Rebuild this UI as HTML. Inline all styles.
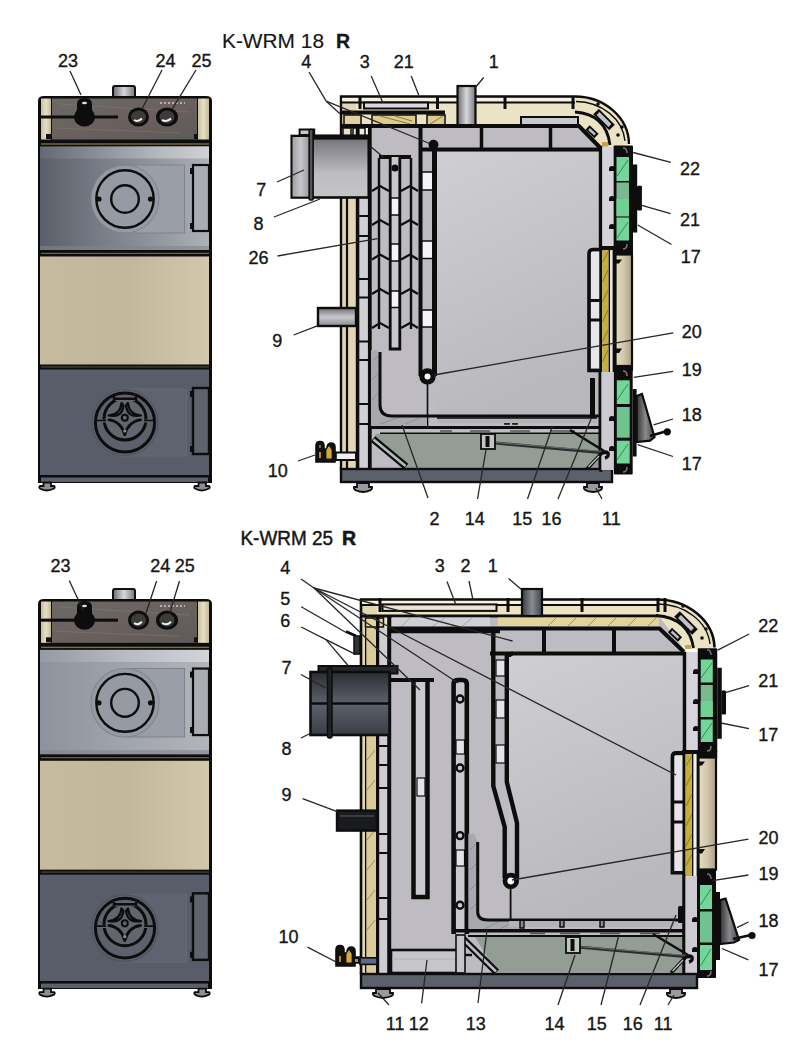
<!DOCTYPE html>
<html><head><meta charset="utf-8">
<style>
html,body{margin:0;padding:0;background:#fff;}
svg{display:block;}
text{font-family:"Liberation Sans",sans-serif;fill:#161616;}
</style></head>
<body>
<svg width="800" height="1061" viewBox="0 0 800 1061">
<defs>
  <linearGradient id="doorG" x1="0" y1="0" x2="1" y2="0">
    <stop offset="0" stop-color="#5a5f69"/>
    <stop offset="0.4" stop-color="#7b8089"/>
    <stop offset="0.8" stop-color="#9b9fa6"/>
    <stop offset="1" stop-color="#aeb1b7"/>
  </linearGradient>
  <linearGradient id="doorL" x1="0" y1="0" x2="1" y2="0">
    <stop offset="0" stop-color="#585d69"/>
    <stop offset="1" stop-color="#5f646e"/>
  </linearGradient>
  <linearGradient id="beigeG" x1="0" y1="0" x2="1" y2="0">
    <stop offset="0" stop-color="#c6ba9f"/>
    <stop offset="0.5" stop-color="#c2b69b"/>
    <stop offset="1" stop-color="#d3c8ab"/>
  </linearGradient>
  <linearGradient id="panelG" x1="0" y1="0" x2="1" y2="1">
    <stop offset="0" stop-color="#6c6a66"/>
    <stop offset="0.5" stop-color="#6a615f"/>
    <stop offset="1" stop-color="#5e5a57"/>
  </linearGradient>
  <linearGradient id="chamG" x1="0" y1="0" x2="0.3" y2="1">
    <stop offset="0" stop-color="#cfced3"/>
    <stop offset="1" stop-color="#b9b8bd"/>
  </linearGradient>
  <linearGradient id="pipeG1" x1="0" y1="0" x2="0" y2="1">
    <stop offset="0" stop-color="#707076"/>
    <stop offset="0.6" stop-color="#bcbcc1"/>
    <stop offset="1" stop-color="#c4c4c9"/>
  </linearGradient>
  <linearGradient id="pipeCap" x1="0" y1="0" x2="1" y2="0">
    <stop offset="0" stop-color="#a0a0a6"/>
    <stop offset="0.5" stop-color="#c6c6cb"/>
    <stop offset="1" stop-color="#9a9aa0"/>
  </linearGradient>
  <linearGradient id="pipeG" x1="0" y1="0" x2="0" y2="1">
    <stop offset="0" stop-color="#6e6e74"/>
    <stop offset="0.5" stop-color="#c9c8cc"/>
    <stop offset="1" stop-color="#8c8b90"/>
  </linearGradient>
  <linearGradient id="pipeDG" x1="0" y1="0" x2="0" y2="1">
    <stop offset="0" stop-color="#2a2c33"/>
    <stop offset="0.5" stop-color="#5d616b"/>
    <stop offset="1" stop-color="#3a3d45"/>
  </linearGradient>
  <linearGradient id="stubG" x1="0" y1="0" x2="1" y2="0">
    <stop offset="0" stop-color="#6c6c70"/>
    <stop offset="0.5" stop-color="#d8d8dc"/>
    <stop offset="1" stop-color="#77777c"/>
  </linearGradient>
  <linearGradient id="doorTop" x1="0" y1="0" x2="1" y2="0">
    <stop offset="0" stop-color="#7a7f88" stop-opacity="0.3"/>
    <stop offset="0.7" stop-color="#b5b8be"/>
    <stop offset="1" stop-color="#d0d2d5"/>
  </linearGradient>
  <linearGradient id="stripG" x1="0" y1="0" x2="1" y2="0">
    <stop offset="0" stop-color="#c9bf9f"/>
    <stop offset="0.5" stop-color="#e7dfc6"/>
    <stop offset="1" stop-color="#c4b995"/>
  </linearGradient>
  <linearGradient id="midDoorG" x1="0" y1="0" x2="1" y2="0">
    <stop offset="0" stop-color="#e6dcc0"/>
    <stop offset="0.5" stop-color="#d2c7aa"/>
    <stop offset="1" stop-color="#aaa088"/>
  </linearGradient>
  <linearGradient id="handleG" x1="0" y1="0" x2="1" y2="0">
    <stop offset="0" stop-color="#333"/>
    <stop offset="0.5" stop-color="#8a8a8e"/>
    <stop offset="1" stop-color="#444"/>
  </linearGradient>
  <linearGradient id="stubDG" x1="0" y1="0" x2="1" y2="0">
    <stop offset="0" stop-color="#3a3c44"/>
    <stop offset="0.5" stop-color="#8a8c94"/>
    <stop offset="1" stop-color="#40434a"/>
  </linearGradient>
  
</defs>
<rect width="800" height="1061" fill="#fff"/>
<g id="fronts">
<defs><linearGradient id="doorG1" x1="0" y1="0" x2="1" y2="0">
    <stop offset="0" stop-color="#5a5f69"/>
    <stop offset="0.4" stop-color="#7b8089"/>
    <stop offset="0.8" stop-color="#9b9fa6"/>
    <stop offset="1" stop-color="#aeb1b7"/>
  </linearGradient>
  <linearGradient id="doorG2" x1="0" y1="0" x2="1" y2="0">
    <stop offset="0" stop-color="#8e929c"/>
    <stop offset="0.5" stop-color="#a0a4ab"/>
    <stop offset="1" stop-color="#b2b5ba"/>
  </linearGradient>
  <linearGradient id="doorTop1" x1="0" y1="0" x2="1" y2="0">
    <stop offset="0" stop-color="#7a7f88" stop-opacity="0.3"/>
    <stop offset="0.7" stop-color="#b5b8be"/>
    <stop offset="1" stop-color="#d0d2d5"/>
  </linearGradient>
  <linearGradient id="doorTop2" x1="0" y1="0" x2="1" y2="0">
    <stop offset="0" stop-color="#9ea2aa" stop-opacity="0.5"/>
    <stop offset="0.5" stop-color="#b8bac4"/>
    <stop offset="1" stop-color="#d2d4d8"/>
  </linearGradient></defs>
<g transform="translate(0,96.00) scale(1,1.0) translate(0,-96)">
    <rect x="113" y="86" width="22" height="12" rx="2" fill="url(#stubG)" stroke="#111" stroke-width="2"/>
    <path d="M38 483 V101 Q38 96 44 96 H206 Q212 96 212 101 V483 Z" fill="#0d0d0d"/>
    <rect x="41" y="98.5" width="10" height="41" fill="url(#stripG)"/>
    <rect x="198" y="98.5" width="11" height="41" fill="url(#stripG)"/>
    <rect x="52" y="98.5" width="145" height="41" fill="url(#panelG)"/>
    <path d="M60 104 L190 112 M55 128 L180 133" stroke="#7e7a76" stroke-width="1" opacity="0.6"/>
    <rect x="41" y="115.5" width="77" height="3" fill="#0d0d0d"/>
    <rect x="46" y="134" width="5" height="5" fill="#111"/>
    <rect x="194" y="134" width="4" height="5" fill="#111"/>
    <path d="M77 118 V104 Q77 98 84.5 98 Q92 98 92 104 V118 Z" fill="#0d0d0d"/>
    <ellipse cx="84.5" cy="117" rx="10.5" ry="9.5" fill="#0d0d0d"/>
    <ellipse cx="84.5" cy="103" rx="2.5" ry="1.3" fill="#ddd"/>
    <ellipse cx="138.5" cy="117" rx="10.5" ry="9.5" fill="#0d0d0d"/>
    <ellipse cx="138.5" cy="117" rx="7.5" ry="6.5" fill="#3e3b3b"/>
    <path d="M134 120 Q138 122.5 142 118.5" stroke="#eee" stroke-width="2" fill="none"/>
    <ellipse cx="167" cy="117" rx="11" ry="9.5" fill="#0d0d0d"/>
    <ellipse cx="167" cy="117" rx="7.5" ry="6.5" fill="#3e3b3b"/>
    <path d="M162 120 Q167 122.5 171 118.5" stroke="#eee" stroke-width="2" fill="none"/>
    <path d="M160 103 H185" stroke="#ccc" stroke-width="1.5" stroke-dasharray="2 2"/>
    <rect x="41" y="143.3" width="168" height="1.4" fill="#7a7040"/>
    <rect x="40" y="146.5" width="169" height="103.5" fill="url(#doorG1)"/>
    <rect x="40" y="146.5" width="169" height="12" fill="url(#doorTop1)"/>
    <path d="M125 165 H184.5 V233 H125 Z" fill="#9a9ea6" stroke="#7f838b" stroke-width="1"/>
    <circle cx="125" cy="199" r="34" fill="#969aa2" stroke="#80848c" stroke-width="1"/>
    <circle cx="125" cy="199" r="28.7" fill="none" stroke="#0d0d0d" stroke-width="2.4"/>
    <circle cx="125" cy="199" r="13.8" fill="none" stroke="#0d0d0d" stroke-width="2.4"/>
    <circle cx="99" cy="199" r="2.6" fill="#0d0d0d"/>
    <circle cx="150.5" cy="199" r="2.6" fill="#0d0d0d"/>
    <rect x="193" y="165" width="16" height="66" fill="#a9acb3" stroke="#0d0d0d" stroke-width="2.2"/>
    <rect x="190" y="168" width="4" height="6" fill="#0d0d0d"/>
    <rect x="190" y="223" width="4" height="6" fill="#0d0d0d"/>
    <rect x="40" y="246" width="169" height="4" fill="#80848c" opacity="0.6"/>
    <rect x="41" y="252.8" width="168" height="1.2" fill="#6d6440"/>
    <rect x="40" y="256.5" width="169" height="108" fill="url(#beigeG)"/>
    <rect x="41" y="366.3" width="168" height="1.2" fill="#4a4a40"/>
    <rect x="40" y="369.5" width="169" height="105.5" fill="#585d69"/>
    <path d="M119 389 H186.5 V456 H119 Z" fill="#5e636f" stroke="#656a75" stroke-width="1"/>
    <circle cx="125" cy="422.5" r="33" fill="#5d626d" stroke="#4d525c" stroke-width="1"/>
    <circle cx="125" cy="422.5" r="29.6" fill="#5c616b" stroke="#0d0d0d" stroke-width="3"/>
    <circle cx="125" cy="419" r="21" fill="#61666f" stroke="#0d0d0d" stroke-width="3"/>
    <rect x="113" y="396" width="24" height="5" fill="#61666f"/>
    <path d="M114 396 V401 M136 396 V401 M114 398.8 H136" stroke="#0d0d0d" stroke-width="2.4"/>
    <path d="M101 421 H106 M144 421 H149" stroke="#61666f" stroke-width="3"/>
    <path d="M97 420.5 H106 M144 420.5 H153" stroke="#0d0d0d" stroke-width="1.6"/>
    <g fill="none" stroke="#0d0d0d" stroke-width="2.2" stroke-linejoin="round">
      <path d="M121.5 403 Q120.5 414.5 108.5 415.5 Q122 418 123.5 405.5 Z"/>
      <path d="M128 403 Q129 414.5 141 415.5 Q127.5 418 126 405.5 Z"/>
      <path d="M108.5 420 Q121 421.5 124.5 435 Q123 423 110 419.5 Z"/>
      <path d="M141 420 Q128.5 421.5 125 435 Q126.5 423 139.5 419.5 Z"/>
    </g>
    <circle cx="124.8" cy="417.8" r="3" fill="none" stroke="#0d0d0d" stroke-width="2"/>
    <circle cx="124.8" cy="431" r="1.6" fill="#8a8e96"/>
    <rect x="193" y="388" width="16" height="66" fill="#5e636e" stroke="#0d0d0d" stroke-width="2.4"/>
    <rect x="190" y="391" width="4" height="6" fill="#0d0d0d"/>
    <rect x="190" y="446" width="4" height="6" fill="#0d0d0d"/>
    <rect x="41" y="477.5" width="167" height="4.5" fill="#5b606b"/>
    <path d="M43.5 482.5 h7.5 v3.5 h3 q1.5 1 0 2.5 q-7.5 4 -14 0 q-1.5 -1.5 0 -2.5 h3.5z" fill="#8e8e94" stroke="#0d0d0d" stroke-width="1.8"/>
    <path d="M198.5 482.5 h7.5 v3.5 h3 q1.5 1 0 2.5 q-7.5 4 -14 0 q-1.5 -1.5 0 -2.5 h3.5z" fill="#8e8e94" stroke="#0d0d0d" stroke-width="1.8"/>
  </g>
<g transform="translate(0,599.00) scale(1,1.008) translate(0,-96)">
    <rect x="113" y="86" width="22" height="12" rx="2" fill="url(#stubG)" stroke="#111" stroke-width="2"/>
    <path d="M38 483 V101 Q38 96 44 96 H206 Q212 96 212 101 V483 Z" fill="#0d0d0d"/>
    <rect x="41" y="98.5" width="10" height="41" fill="url(#stripG)"/>
    <rect x="198" y="98.5" width="11" height="41" fill="url(#stripG)"/>
    <rect x="52" y="98.5" width="145" height="41" fill="url(#panelG)"/>
    <path d="M60 104 L190 112 M55 128 L180 133" stroke="#7e7a76" stroke-width="1" opacity="0.6"/>
    <rect x="41" y="115.5" width="77" height="3" fill="#0d0d0d"/>
    <rect x="46" y="134" width="5" height="5" fill="#111"/>
    <rect x="194" y="134" width="4" height="5" fill="#111"/>
    <path d="M77 118 V104 Q77 98 84.5 98 Q92 98 92 104 V118 Z" fill="#0d0d0d"/>
    <ellipse cx="84.5" cy="117" rx="10.5" ry="9.5" fill="#0d0d0d"/>
    <ellipse cx="84.5" cy="103" rx="2.5" ry="1.3" fill="#ddd"/>
    <ellipse cx="138.5" cy="117" rx="10.5" ry="9.5" fill="#0d0d0d"/>
    <ellipse cx="138.5" cy="117" rx="7.5" ry="6.5" fill="#3e3b3b"/>
    <path d="M134 120 Q138 122.5 142 118.5" stroke="#eee" stroke-width="2" fill="none"/>
    <ellipse cx="167" cy="117" rx="11" ry="9.5" fill="#0d0d0d"/>
    <ellipse cx="167" cy="117" rx="7.5" ry="6.5" fill="#3e3b3b"/>
    <path d="M162 120 Q167 122.5 171 118.5" stroke="#eee" stroke-width="2" fill="none"/>
    <path d="M160 103 H185" stroke="#ccc" stroke-width="1.5" stroke-dasharray="2 2"/>
    <rect x="41" y="143.3" width="168" height="1.4" fill="#7a7040"/>
    <rect x="40" y="146.5" width="169" height="103.5" fill="url(#doorG2)"/>
    <rect x="40" y="146.5" width="169" height="12" fill="url(#doorTop2)"/>
    <path d="M125 165 H184.5 V233 H125 Z" fill="#9a9ea6" stroke="#7f838b" stroke-width="1"/>
    <circle cx="125" cy="199" r="34" fill="#969aa2" stroke="#80848c" stroke-width="1"/>
    <circle cx="125" cy="199" r="28.7" fill="none" stroke="#0d0d0d" stroke-width="2.4"/>
    <circle cx="125" cy="199" r="13.8" fill="none" stroke="#0d0d0d" stroke-width="2.4"/>
    <circle cx="99" cy="199" r="2.6" fill="#0d0d0d"/>
    <circle cx="150.5" cy="199" r="2.6" fill="#0d0d0d"/>
    <rect x="193" y="165" width="16" height="66" fill="#a9acb3" stroke="#0d0d0d" stroke-width="2.2"/>
    <rect x="190" y="168" width="4" height="6" fill="#0d0d0d"/>
    <rect x="190" y="223" width="4" height="6" fill="#0d0d0d"/>
    <rect x="40" y="246" width="169" height="4" fill="#80848c" opacity="0.6"/>
    <rect x="41" y="252.8" width="168" height="1.2" fill="#6d6440"/>
    <rect x="40" y="256.5" width="169" height="108" fill="url(#beigeG)"/>
    <rect x="41" y="366.3" width="168" height="1.2" fill="#4a4a40"/>
    <rect x="40" y="369.5" width="169" height="105.5" fill="#585d69"/>
    <path d="M119 389 H186.5 V456 H119 Z" fill="#5e636f" stroke="#656a75" stroke-width="1"/>
    <circle cx="125" cy="422.5" r="33" fill="#5d626d" stroke="#4d525c" stroke-width="1"/>
    <circle cx="125" cy="422.5" r="29.6" fill="#5c616b" stroke="#0d0d0d" stroke-width="3"/>
    <circle cx="125" cy="419" r="21" fill="#61666f" stroke="#0d0d0d" stroke-width="3"/>
    <rect x="113" y="396" width="24" height="5" fill="#61666f"/>
    <path d="M114 396 V401 M136 396 V401 M114 398.8 H136" stroke="#0d0d0d" stroke-width="2.4"/>
    <path d="M101 421 H106 M144 421 H149" stroke="#61666f" stroke-width="3"/>
    <path d="M97 420.5 H106 M144 420.5 H153" stroke="#0d0d0d" stroke-width="1.6"/>
    <g fill="none" stroke="#0d0d0d" stroke-width="2.2" stroke-linejoin="round">
      <path d="M121.5 403 Q120.5 414.5 108.5 415.5 Q122 418 123.5 405.5 Z"/>
      <path d="M128 403 Q129 414.5 141 415.5 Q127.5 418 126 405.5 Z"/>
      <path d="M108.5 420 Q121 421.5 124.5 435 Q123 423 110 419.5 Z"/>
      <path d="M141 420 Q128.5 421.5 125 435 Q126.5 423 139.5 419.5 Z"/>
    </g>
    <circle cx="124.8" cy="417.8" r="3" fill="none" stroke="#0d0d0d" stroke-width="2"/>
    <circle cx="124.8" cy="431" r="1.6" fill="#8a8e96"/>
    <rect x="193" y="388" width="16" height="66" fill="#5e636e" stroke="#0d0d0d" stroke-width="2.4"/>
    <rect x="190" y="391" width="4" height="6" fill="#0d0d0d"/>
    <rect x="190" y="446" width="4" height="6" fill="#0d0d0d"/>
    <rect x="41" y="477.5" width="167" height="4.5" fill="#5b606b"/>
    <path d="M43.5 482.5 h7.5 v3.5 h3 q1.5 1 0 2.5 q-7.5 4 -14 0 q-1.5 -1.5 0 -2.5 h3.5z" fill="#8e8e94" stroke="#0d0d0d" stroke-width="1.8"/>
    <path d="M198.5 482.5 h7.5 v3.5 h3 q1.5 1 0 2.5 q-7.5 4 -14 0 q-1.5 -1.5 0 -2.5 h3.5z" fill="#8e8e94" stroke="#0d0d0d" stroke-width="1.8"/>
  </g>
</g><!--/fronts-->
<g id="s1">
  <!-- insulation fills -->
  <path d="M341 96 H575 A54 48 0 0 1 629 144 L615 147 H600 L579 126 H341 Z" fill="#ece3c4"/>
  <rect x="341" y="96" width="15" height="374" fill="#e2d6b4"/>
  <!-- body fill -->
  <path d="M368 126 H579 L600 148 V470 H368 Z" fill="#bebcc2"/>
  <rect x="437" y="152" width="163" height="264" fill="url(#chamG)"/>
  <!-- casing top double line -->
  <path d="M341 470 V96.5 H575 A54 48 0 0 1 629 144" fill="none" stroke="#0d0d0d" stroke-width="2.4"/>
  <rect x="342" y="98" width="233" height="3" fill="#f6f1e2"/>
  <path d="M341 102.5 H575" stroke="#0d0d0d" stroke-width="2"/>
  <path d="M360 96 V109 M437.5 96 V109 M505 96 V109 M573 96 V109" stroke="#0d0d0d" stroke-width="3"/>
  <!-- corner insulation details -->
  <path d="M576 101.5 A50 43 0 0 1 625 141" fill="none" stroke="#0d0d0d" stroke-width="1.3"/>
  <path d="M575 112 Q606 114 610 145" fill="none" stroke="#0d0d0d" stroke-width="2.8"/>
  <path d="M596 111.5 L612 127.5" stroke="#0d0d0d" stroke-width="8"/>
  <path d="M598 113.5 L610 125.5" stroke="#c0c0cc" stroke-width="4"/>
  <path d="M587.5 127.5 L596.5 136" stroke="#0d0d0d" stroke-width="6"/>
  <path d="M589 129 L595 134.5" stroke="#c0c0cc" stroke-width="2.4"/>
  <circle cx="598" cy="104" r="1.8" fill="#0d0d0d"/>
  <circle cx="622" cy="127" r="1.8" fill="#0d0d0d"/>
  <circle cx="618" cy="135" r="1.8" fill="#0d0d0d"/>
  <rect x="602" y="142" width="6" height="4.5" fill="#c8a050"/>
  <!-- top left insulation details -->
  <rect x="364" y="102.5" width="64" height="6" fill="#d9d8e0" stroke="#0d0d0d" stroke-width="2"/>
  <rect x="341" y="110.5" width="104" height="4" fill="#0d0d0d"/>
  <rect x="344" y="115" width="17" height="10" fill="#e0d2a0" stroke="#0d0d0d" stroke-width="1.5"/>
  <rect x="372" y="115" width="44" height="10" fill="#dccc90" stroke="#0d0d0d" stroke-width="1.5"/>
  <path d="M380 116 L410 124 M395 116 L412 121" stroke="#8a7a40" stroke-width="1"/>
  <rect x="427" y="115" width="18" height="10" fill="#dccc90" stroke="#0d0d0d" stroke-width="1.5"/>
  <path d="M430 124 L443 116" stroke="#8a7a40" stroke-width="1"/>
  <rect x="521" y="117" width="57" height="8" fill="#c9c8ce" stroke="#0d0d0d" stroke-width="2"/>
  <rect x="341" y="124" width="30" height="4" fill="#0d0d0d"/>
  <rect x="343" y="128" width="8" height="8" fill="#ece3c4" stroke="#0d0d0d" stroke-width="1.5"/>
  <rect x="353" y="128" width="12" height="8" fill="#e8e8ea" stroke="#0d0d0d" stroke-width="1.5"/>
  <!-- stub 1 -->
  <rect x="457.5" y="86" width="18" height="40" fill="url(#stubG)" stroke="#0d0d0d" stroke-width="2.2"/>
  <!-- body top line and dividers -->
  <path d="M356 126 H579 L600 147.5" fill="none" stroke="#0d0d0d" stroke-width="4"/>
  <path d="M420 149.5 H600" stroke="#0d0d0d" stroke-width="4"/>
  <path d="M481.5 126 V149 M550.5 126 V149" stroke="#0d0d0d" stroke-width="3.5"/>
  <!-- left casing strips -->
  <path d="M347 136 V470" stroke="#0d0d0d" stroke-width="2.2"/>
  <rect x="355.8" y="126" width="3.8" height="344" fill="#0d0d0d"/>
  <rect x="359.6" y="197" width="8.3" height="273" fill="#d0cfd4"/>
  <rect x="367.9" y="126" width="3.8" height="344" fill="#0d0d0d"/>
  <path d="M359 216 H368 M359 236 H368 M359 279 H368 M359 297.5 H368 M359 341.5 H368 M359 360 H368 M359 404 H368 M359 424 H368" stroke="#0d0d0d" stroke-width="2.2"/>
  <!-- flue pipe 7 -->
  <rect x="291.75" y="136" width="77" height="61.5" fill="url(#pipeG1)" stroke="#0d0d0d" stroke-width="2.6"/>
  <rect x="292.5" y="137" width="16.5" height="59.5" fill="url(#pipeCap)"/>
  <rect x="313" y="134.6" width="56" height="5" fill="#0d0d0d"/>
  <rect x="299.6" y="129.5" width="14.6" height="5.5" fill="#c8c8cc" stroke="#0d0d0d" stroke-width="2"/>
  <rect x="309.2" y="129.5" width="3.9" height="70.5" rx="1" fill="#555" stroke="#0d0d0d" stroke-width="1.6"/>
  <!-- pipe 9 -->
  <rect x="318" y="308" width="38" height="18" fill="url(#pipeG)" stroke="#0d0d0d" stroke-width="2.4"/>
  <!-- tube 20 / divider -->
  <rect x="418.5" y="128" width="4" height="248" fill="#0d0d0d"/>
  <rect x="432" y="146" width="5" height="230" fill="#0d0d0d"/>
  <rect x="423" y="172" width="9" height="18" fill="#f4f4f6"/>
  <rect x="423" y="241" width="9" height="17.5" fill="#f4f4f6"/>
  <rect x="423" y="310" width="9" height="17" fill="#f4f4f6"/>
  <path d="M422 172 H432 M422 190 H432 M422 241 H432 M422 258.5 H432 M422 310 H432 M422 327 H432" stroke="#0d0d0d" stroke-width="1.5"/>
  <circle cx="427.5" cy="376.5" r="8.2" fill="#0d0d0d"/>
  <circle cx="427.5" cy="376.5" r="3" fill="#fff"/>
  <path d="M427.5 383 V428" stroke="#0d0d0d" stroke-width="1.6"/>
  <circle cx="433.5" cy="144.7" r="5" fill="#0d0d0d"/>
  <!-- fins 26 -->
  <path d="M379 158 V329 M411 158 V329" stroke="#0d0d0d" stroke-width="2.4"/>
  <path d="M379 157 H411" stroke="#0d0d0d" stroke-width="4"/>
  <path d="M390.2 157 V349 H399.8 V157" fill="#c8c7cc" stroke="#0d0d0d" stroke-width="2.8"/>
  <rect x="392" y="198" width="6" height="17" fill="#f4f4f6"/>
  <rect x="392" y="244" width="6" height="17" fill="#f4f4f6"/>
  <rect x="392" y="291" width="6" height="16.5" fill="#f4f4f6"/>
  <path d="M391 198 H399 M391 215 H399 M391 244 H399 M391 261 H399 M391 291 H399 M391 307.5 H399" stroke="#0d0d0d" stroke-width="1.4"/>
  <circle cx="395" cy="168" r="3.5" fill="#0d0d0d"/>
  <path d="M372 191 L380 186 L389 191 M401 191 L410 186 L418 191 M372 225 L380 220 L389 225 M401 225 L410 220 L418 225 M372 259.5 L380 254.5 L389 259.5 M401 259.5 L410 254.5 L418 259.5 M372 294 L380 289 L389 294 M401 294 L410 289 L418 294 M372 328 L380 323 L389 328 M401 328 L410 323 L418 328" fill="none" stroke="#0d0d0d" stroke-width="2.2"/>
  <!-- refractory -->
  <path d="M371 350 L377 350 L380 356 V405 Q380 416 392 416 H427 V426.5 H371 Z" fill="#a8a9ae"/>
  <path d="M374 360 L378 356 M372 380 L379 372 M372 400 L379 392 M380 424 L400 417 M405 424 L420 418" stroke="#8e8f95" stroke-width="1"/>
  <path d="M380 352 V405 Q380 416 392 416 H600" fill="none" stroke="#0d0d0d" stroke-width="3"/>
  <!-- grate & ash pan -->
  <rect x="371" y="426" width="229" height="3" fill="#0d0d0d"/>
  <path d="M440 431 H452 M470 431 H490 M510 431 H530 M550 431 H575" stroke="#555" stroke-width="1.5"/>
  <rect x="380" y="432.5" width="220" height="2" fill="#0d0d0d"/>
  <path d="M376 434 H600 V468 H406 L372 441 Z" fill="#939d95"/>
  <path d="M373 439 L406 466.5" stroke="#0d0d0d" stroke-width="7"/>
  <path d="M373.5 439.5 L405.5 466" stroke="#b8bbc0" stroke-width="2.6"/>
  <!-- base strip -->
  <rect x="341" y="469" width="271" height="13" fill="#5b606b" stroke="#0d0d0d" stroke-width="2.4"/>
  <rect x="335" y="452.5" width="21" height="7.5" fill="#f0f0f0" stroke="#0d0d0d" stroke-width="2"/>
  <path d="M316 446 q0 -4.5 4 -4.5 q4 0 4 4.5 v3 h3 v-2 q1 -4 4 -4 q4 0 4 4 v6 h1 v6 h-1 v3 h-19 z" fill="#111" stroke="#0d0d0d" stroke-width="1.6"/>
  <path d="M320 445 v3 M327 450 l2 -3 l2 3 v8 h-4z" fill="#d8a838" stroke="#d8a838" stroke-width="1.2"/>
  <path d="M319 452 h2 v6 h-2z" fill="#b88a28"/>
  <path d="M357 483 h12 v4 h3 q1 4 -9 5 q-10 -1 -9 -5 h3z" fill="#9a9aa0" stroke="#0d0d0d" stroke-width="1.8"/>
  <path d="M587 483 h12 v4 h3 q1 4 -9 5 q-10 -1 -9 -5 h3z" fill="#9a9aa0" stroke="#0d0d0d" stroke-width="1.8"/>
</g>
<!--/s1-->
<g id="s1r">
  <!-- chamber right wall & jacket -->
  <rect x="598.8" y="146" width="3.6" height="101.5" fill="#0d0d0d"/>
  <rect x="602.4" y="147" width="11.2" height="100" fill="#d6d4da"/>
  <path d="M600.5 249.5 H593 Q589 249.5 589 254 V370.5 H600" fill="none" stroke="#0d0d0d" stroke-width="3.6"/>
  <rect x="591" y="252" width="8.5" height="116" fill="#e6e6ea"/>
  <path d="M590 300.5 H600 M590 320 H600" stroke="#0d0d0d" stroke-width="3.2"/>
  <rect x="599.3" y="247" width="3" height="225" fill="#0d0d0d"/>
  <rect x="599" y="246" width="15" height="4.5" fill="#0d0d0d"/>
  <rect x="613.6" y="249" width="19.4" height="6" fill="#0d0d0d"/>
  <rect x="602.3" y="250" width="6.3" height="122" fill="#c6ae3c"/>
  <path d="M602.5 262 L608 252 M602.5 282 L608 270 M602.5 302 L608 290 M602.5 322 L608 310 M602.5 342 L608 330 M602.5 362 L608 350" stroke="#8c7a28" stroke-width="1"/>
  <rect x="608.6" y="250" width="1.6" height="122" fill="#0d0d0d"/>
  <rect x="610.2" y="250" width="2.4" height="122" fill="#e8e6e0"/>
  <rect x="612.6" y="250" width="3" height="122" fill="#0d0d0d"/>
  <!-- middle door beige -->
  <rect x="615.5" y="254.5" width="16.5" height="111.5" fill="url(#midDoorG)" stroke="#0d0d0d" stroke-width="2.2"/>
  <rect x="614" y="367" width="19" height="4" fill="#0d0d0d"/>
  <path d="M615 259.5 h7 l-3 4 h-4z M615 348.5 h7 l-3 4.5 h-4z" fill="#0d0d0d"/>
  <!-- upper door -->
  <rect x="613.6" y="145.6" width="19.4" height="106" rx="1" fill="#0d0d0d"/>
  <path d="M623 148 q4 0 4 5" stroke="#777" stroke-width="1.5" fill="none"/>
  <path d="M623 249 q4 0 4 -5" stroke="#777" stroke-width="1.5" fill="none"/>
  <rect x="616.5" y="157" width="12.5" height="24" fill="#74d59a"/>
  <rect x="616.5" y="182.5" width="12.5" height="34" fill="#79b890"/>
  <rect x="616.5" y="199" width="12.5" height="17" fill="#6fd294"/>
  <rect x="616.5" y="217.5" width="12.5" height="23" fill="#74d59a"/>
  <path d="M617 176 L628 160 M617 238 L628 222" stroke="#2d8c50" stroke-width="1"/>
  <path d="M609 169 a3 3 0 0 1 6 0 v2 h-6z M609 199 a3 3 0 0 1 6 0 v2 h-6z M609 227 a3 3 0 0 1 6 0 v2 h-6z" fill="#0d0d0d"/>
  <rect x="633" y="164.5" width="4.2" height="68" fill="#0d0d0d"/>
  <rect x="637" y="185.7" width="4.9" height="24.7" rx="1" fill="#0d0d0d"/>
  <!-- front wall lower -->
  <rect x="600" y="372" width="14" height="98" fill="#cdcbd1"/>
  <rect x="598.5" y="370" width="2.8" height="100" fill="#0d0d0d"/>
  <rect x="590" y="378" width="5" height="40" fill="#0d0d0d"/>
  <!-- lower door -->
  <rect x="613.9" y="368.4" width="18.8" height="106" rx="1" fill="#0d0d0d"/>
  <path d="M623 371 q4 0 4 5" stroke="#777" stroke-width="1.5" fill="none"/>
  <path d="M623 472 q4 0 4 -5" stroke="#777" stroke-width="1.5" fill="none"/>
  <rect x="616.8" y="380.3" width="12.9" height="23.7" fill="#74d59a"/>
  <rect x="616.8" y="407" width="12.9" height="30.7" fill="#70c28f"/>
  <rect x="616.8" y="440.7" width="12.9" height="22.8" fill="#74d59a"/>
  <path d="M617 400 L628 384 M617 460 L628 444" stroke="#2d8c50" stroke-width="1"/>
  <path d="M609 419 a3 3 0 0 1 6 0 v2 h-6z M609 449 a3 3 0 0 1 6 0 v2 h-6z" fill="#0d0d0d"/>
  <rect x="632.7" y="389" width="3.9" height="67.5" fill="#0d0d0d"/>
  <path d="M636.6 396 L642 394 L654.5 437 L650 440.7 L636.6 442 Z" fill="url(#handleG)" stroke="#0d0d0d" stroke-width="2.2"/>
  <path d="M650 436 L667 431" stroke="#0d0d0d" stroke-width="2.6"/>
  <circle cx="667.3" cy="431.8" r="3.6" fill="#0d0d0d"/>
  <!-- ash area details -->
  <path d="M570 430 L604 451" stroke="#0d0d0d" stroke-width="2.5"/>
  <path d="M495 443 L606 453" stroke="#2b2e30" stroke-width="3.2"/>
  <path d="M496 442.5 L604 451.5" stroke="#6b7070" stroke-width="1"/>
  <rect x="481" y="434" width="14" height="15" fill="#c2c6c2" stroke="#0d0d0d" stroke-width="1.8"/>
  <rect x="485.5" y="436" width="4" height="11" fill="#0d0d0d"/>
  <path d="M587 469 L599 456 Q604 450 608 453 Q609 457 605 458" fill="none" stroke="#0d0d0d" stroke-width="3.4"/>
  <path d="M588.5 467 L599 456" fill="none" stroke="#c8c8c8" stroke-width="1.2"/>
  <path d="M505 417 v7 h4 v-7 M513 417 v7 h4 v-7" fill="#888" stroke="#0d0d0d" stroke-width="1.6"/>
  <rect x="437" y="418" width="160" height="5" fill="#b4b3b8"/>
  <path d="M437 418 H597" stroke="#0d0d0d" stroke-width="1.4"/>
</g>
<!--/s1r-->
<g id="s2">
  <!-- insulation fills -->
  <path d="M361 598.5 H656.5 A58 49 0 0 1 714.5 647.5 L698 649 H686 L659.5 628 H361 Z" fill="#ece3c4"/>
  <rect x="361" y="598.5" width="16" height="376" fill="#e2d6b4"/>
  <!-- body fill -->
  <path d="M388 617 H659.5 L686 651.5 V974 H388 Z" fill="#bebcc2"/>
  <rect x="509" y="655" width="175" height="265" fill="url(#chamG)"/>
  <!-- casing outline -->
  <path d="M361 974 V599.5 H656.5 A58 49 0 0 1 714.5 647.5" fill="none" stroke="#0d0d0d" stroke-width="2.6"/>
  <rect x="362" y="601" width="295" height="3" fill="#f6f1e2"/>
  <path d="M362 605 H657" stroke="#0d0d0d" stroke-width="2.2"/>
  <path d="M380 598 V612 M508 598 V612 M582 598 V612 M658 598 V612" stroke="#0d0d0d" stroke-width="3"/>
  <rect x="382.5" y="604.4" width="114" height="6.5" fill="#e9e6d6" stroke="#0d0d0d" stroke-width="2"/>
  <rect x="362" y="614.5" width="296" height="3" fill="#0d0d0d"/>
  <rect x="392" y="617.5" width="98" height="11" fill="#d0cfd3"/>
  <path d="M400 628 L410 618 M430 628 L445 618 M460 628 L472 618" stroke="#a9a9ae" stroke-width="1"/>
  <rect x="498" y="617.5" width="161" height="8.5" fill="#e3d49c"/>
  <path d="M548 626 L556 618 M568 626 L576 618 M588 626 L596 618 M608 626 L616 618 M628 626 L636 618 M648 626 L656 618" stroke="#a8924a" stroke-width="1"/>
  <rect x="365.5" y="618" width="18" height="9" fill="#e3d49c" stroke="#0d0d0d" stroke-width="1.5"/>
  <!-- corner insulation -->
  <path d="M657 604 A53 44 0 0 1 710 644" fill="none" stroke="#0d0d0d" stroke-width="1.3"/>
  <path d="M656 615.5 Q689 618 693.5 648" fill="none" stroke="#0d0d0d" stroke-width="2.8"/>
  <path d="M677 614 L695 632" stroke="#0d0d0d" stroke-width="8"/>
  <path d="M679.5 616.5 L692.5 629.5" stroke="#c0c0cc" stroke-width="4"/>
  <path d="M670 630 L680 639.5" stroke="#0d0d0d" stroke-width="6"/>
  <path d="M671.5 631.5 L678.5 638" stroke="#c0c0cc" stroke-width="2.4"/>
  <path d="M665 598 V612" stroke="#0d0d0d" stroke-width="3"/>
  <circle cx="683" cy="606" r="1.8" fill="#0d0d0d"/>
  <circle cx="706" cy="629" r="1.8" fill="#0d0d0d"/>
  <circle cx="702" cy="638" r="1.8" fill="#0d0d0d"/>
  <rect x="685" y="645" width="6" height="4" fill="#c8a050"/>
  <!-- stub 1 -->
  <rect x="522" y="589" width="20" height="27" fill="url(#stubDG)" stroke="#0d0d0d" stroke-width="2.2"/>
  <!-- body top -->
  <path d="M388 628.5 H659.5 L684 652" fill="none" stroke="#0d0d0d" stroke-width="4"/>
  <path d="M391 631.5 H500" stroke="#0d0d0d" stroke-width="3.5"/>
  <path d="M490 653.5 H684" stroke="#0d0d0d" stroke-width="4"/>
  <path d="M544 629 V652 M614 629 V652" stroke="#0d0d0d" stroke-width="4"/>
  <!-- left casing strips -->
  <path d="M365.8 628 V974" stroke="#0d0d0d" stroke-width="1.6"/>
  <rect x="366.5" y="628" width="9.5" height="346" fill="#dccb9a"/>
  <path d="M367 700 L375 690 M367 720 L375 710 M367 760 L375 750 M367 790 L375 780 M367 840 L375 830 M367 870 L375 860 M367 900 L375 890 M367 930 L375 920" stroke="#a08a50" stroke-width="1"/>
  <rect x="376" y="617" width="3.5" height="357" fill="#0d0d0d"/>
  <rect x="379.5" y="628" width="8" height="346" fill="#cfcdd3"/>
  <rect x="387.2" y="617" width="4" height="357" fill="#0d0d0d"/>
  <path d="M379 746 H388 M379 765 H388 M379 788 H388 M379 834 H388 M379 853 H388 M379 898 H388 M379 919 H388" stroke="#0d0d0d" stroke-width="2.2"/>
  <!-- item 5/6 small parts -->
  <path d="M346 631.5 L356 636" stroke="#0d0d0d" stroke-width="3"/>
  <rect x="354" y="636" width="6" height="18" fill="#333" stroke="#0d0d0d" stroke-width="1.5"/>
  <!-- flue pipe 7 -->
  <rect x="318.5" y="666" width="79" height="7.5" fill="#25272c" stroke="#0d0d0d" stroke-width="2"/>
  <rect x="310.5" y="672" width="79" height="63" fill="url(#pipeDG)" stroke="#0d0d0d" stroke-width="2.6"/>
  <path d="M311 703.5 H389" stroke="#0d0d0d" stroke-width="2.5"/>
  <rect x="327.5" y="668" width="4.5" height="70" rx="2" fill="#222" stroke="#0d0d0d" stroke-width="1.5"/>
  <!-- plate 12 -->
  <path d="M391 680 H434" stroke="#0d0d0d" stroke-width="4"/>
  <path d="M413.5 682 V897 H427.5 V682" fill="#cac9ce" stroke="#0d0d0d" stroke-width="4.5"/>
  <rect x="417" y="778" width="8" height="18" fill="#e4e4e8" stroke="#0d0d0d" stroke-width="1.2"/>
  <!-- tube with holes -->
  <path d="M453.6 934 V684 Q453.6 680 457.5 680 H462.5 Q466.8 680 466.8 684 V934" fill="#cac9ce" stroke="#0d0d0d" stroke-width="4.6"/>
  <circle cx="460" cy="699" r="3.5" fill="none" stroke="#0d0d0d" stroke-width="2.4"/>
  <circle cx="460" cy="768" r="3.5" fill="none" stroke="#0d0d0d" stroke-width="2.4"/>
  <circle cx="460" cy="835.6" r="3.5" fill="none" stroke="#0d0d0d" stroke-width="2.4"/>
  <circle cx="460" cy="905.3" r="3.5" fill="none" stroke="#0d0d0d" stroke-width="2.4"/>
  <rect x="456" y="740" width="8.5" height="14" fill="#e4e4e8" stroke="#0d0d0d" stroke-width="1.2"/>
  <rect x="456" y="850" width="8.5" height="16" fill="#e4e4e8" stroke="#0d0d0d" stroke-width="1.2"/>
  <!-- tube 20 (bent jacket) -->
  <path d="M493.3 631 V786 L504.7 827 V878" fill="none" stroke="#0d0d0d" stroke-width="4.4"/>
  <path d="M506.8 655 V782 L517 823 V878" fill="none" stroke="#0d0d0d" stroke-width="4.4"/>
  <path d="M509 657 Q509 653.5 513 653.5" fill="none" stroke="#0d0d0d" stroke-width="4"/>
  <rect x="496" y="660" width="9" height="16" fill="#e4e4e8" stroke="#0d0d0d" stroke-width="1.2"/>
  <rect x="496" y="700" width="9" height="18" fill="#e4e4e8" stroke="#0d0d0d" stroke-width="1.2"/>
  <rect x="496" y="745" width="9" height="18" fill="#e4e4e8" stroke="#0d0d0d" stroke-width="1.2"/>
  <circle cx="510.8" cy="881" r="8.2" fill="#0d0d0d"/>
  <circle cx="510.8" cy="881" r="3.4" fill="#fff"/>
  <path d="M510.6 888 V921" stroke="#0d0d0d" stroke-width="1.8"/>
  <!-- refractory -->
  <path d="M468.3 833.7 L474 833.7 L477.7 842 V912 Q477.7 920 488 920 H519 V930.7 H468.3 Z" fill="#a8a9ae"/>
  <path d="M470 850 L477 843 M470 870 L477 863 M470 890 L477 883 M470 910 L477 903 M485 929 L500 921 M500 929 L515 921" stroke="#8e8f95" stroke-width="1"/>
  <path d="M477.7 842 V912 Q477.7 920 488 920 H684" fill="none" stroke="#0d0d0d" stroke-width="3"/>
  <rect x="509" y="921" width="166" height="6" fill="#b4b3b8"/>
  <path d="M520 921 v7 h4 v-7 M560 921 v6 h4 v-6 M600 921 v6 h4 v-6" fill="#888" stroke="#0d0d0d" stroke-width="1.4"/>
  <!-- grate & ash pan -->
  <rect x="452" y="929" width="232" height="3.5" fill="#0d0d0d"/>
  <path d="M530 933.5 H545 M560 933.5 H580 M600 933.5 H620 M640 933.5 H660" stroke="#555" stroke-width="1.5"/>
  <rect x="468" y="935" width="216" height="2" fill="#0d0d0d"/>
  <path d="M475 937 H684 V972 H496 Z" fill="#939d95"/>
  <path d="M463 939 L496.5 972" stroke="#0d0d0d" stroke-width="7"/>
  <path d="M463.5 939.5 L496 971.5" stroke="#b8bbc0" stroke-width="2.6"/>
  <!-- box 12 -->
  <rect x="391" y="950" width="68" height="23" fill="#c6c5ca" stroke="#0d0d0d" stroke-width="2.6"/>
  <path d="M392 959 H458" stroke="#b0afb4" stroke-width="1"/>
  <rect x="456" y="935" width="9" height="38" fill="#c6c5ca" stroke="#0d0d0d" stroke-width="1.6"/>
  <path d="M465 955 h7" stroke="#0d0d0d" stroke-width="2.4"/>
  <!-- right side -->
  <rect x="682.75" y="652" width="3.75" height="101" fill="#0d0d0d"/>
  <rect x="686.5" y="652" width="11.2" height="101" fill="#d6d4da"/>
  <path d="M684 753 H676 Q672.5 753 672.5 757 V872.5 H684" fill="none" stroke="#0d0d0d" stroke-width="3.8"/>
  <rect x="674.5" y="756" width="9" height="115" fill="#e6e6ea"/>
  <path d="M674 802 H684 M674 822 H684" stroke="#0d0d0d" stroke-width="3.2"/>
  <rect x="682.5" y="750" width="3" height="225" fill="#0d0d0d"/>
  <rect x="682" y="750" width="16" height="4.5" fill="#0d0d0d"/>
  <rect x="697.75" y="751" width="19.5" height="7" fill="#0d0d0d"/>
  <rect x="685.5" y="754" width="6.5" height="122" fill="#c6ae3c"/>
  <path d="M686 766 L692 756 M686 786 L692 774 M686 806 L692 794 M686 826 L692 814 M686 846 L692 834 M686 866 L692 854" stroke="#8c7a28" stroke-width="1"/>
  <rect x="692" y="754" width="1.6" height="122" fill="#0d0d0d"/>
  <rect x="693.6" y="754" width="3" height="122" fill="#f2f0e8"/>
  <rect x="696.6" y="754" width="2.4" height="122" fill="#0d0d0d"/>
  <rect x="698.5" y="757.5" width="17.5" height="112" fill="url(#midDoorG)" stroke="#0d0d0d" stroke-width="2.2"/>
  <rect x="697" y="870" width="19" height="4" fill="#0d0d0d"/>
  <path d="M698 761.5 h7 l-3 4 h-4z M698 849 h7 l-3 4.5 h-4z" fill="#0d0d0d"/>
  <!-- upper door -->
  <rect x="697.75" y="648.25" width="19.5" height="104.5" rx="1" fill="#0d0d0d"/>
  <path d="M707 650 q4 0 4 5" stroke="#777" stroke-width="1.5" fill="none"/>
  <path d="M707 751 q4 0 4 -5" stroke="#777" stroke-width="1.5" fill="none"/>
  <rect x="700.75" y="659.5" width="12" height="23" fill="#74d59a"/>
  <rect x="700.75" y="685" width="12" height="32" fill="#79b890"/>
  <rect x="700.75" y="701" width="12" height="16" fill="#6fd294"/>
  <rect x="700.75" y="719.5" width="12" height="22.5" fill="#74d59a"/>
  <path d="M701 678 L712 663 M701 739 L712 723" stroke="#2d8c50" stroke-width="1"/>
  <path d="M693 672 a3 3 0 0 1 6 0 v2 h-6z M693 702 a3 3 0 0 1 6 0 v2 h-6z M693 729 a3 3 0 0 1 6 0 v2 h-6z" fill="#0d0d0d"/>
  <rect x="717.25" y="667.75" width="4.5" height="71" fill="#0d0d0d"/>
  <rect x="721.5" y="690.5" width="4.5" height="24" rx="1" fill="#0d0d0d"/>
  <!-- front wall lower -->
  <rect x="684" y="876" width="13.5" height="98" fill="#cdcbd1"/>
  <rect x="682.5" y="874" width="2.8" height="100" fill="#0d0d0d"/>
  <rect x="678" y="906" width="7" height="17" rx="1.5" fill="#0d0d0d"/>
  <!-- lower door -->
  <rect x="697" y="872.6" width="19" height="105.4" rx="1" fill="#0d0d0d"/>
  <path d="M707 874 q4 0 4 5" stroke="#777" stroke-width="1.5" fill="none"/>
  <path d="M707 976 q4 0 4 -5" stroke="#777" stroke-width="1.5" fill="none"/>
  <rect x="700" y="885" width="12" height="24" fill="#74d59a"/>
  <rect x="700" y="911.5" width="12" height="31" fill="#70c28f"/>
  <rect x="700" y="945" width="12" height="25" fill="#74d59a"/>
  <path d="M700.5 905 L711 889 M700.5 966 L711 949" stroke="#2d8c50" stroke-width="1"/>
  <path d="M692 920 a3 3 0 0 1 6 0 v2 h-6z M692 950 a3 3 0 0 1 6 0 v2 h-6z" fill="#0d0d0d"/>
  <rect x="716" y="892" width="4" height="68" fill="#0d0d0d"/>
  <path d="M720 900 L725.5 898.6 L739 940 L734 942.5 L720 944 Z" fill="url(#handleG)" stroke="#0d0d0d" stroke-width="2.2"/>
  <path d="M733 939 L751 935" stroke="#0d0d0d" stroke-width="2.6"/>
  <circle cx="752" cy="935.5" r="3.6" fill="#0d0d0d"/>
  <!-- ash area details -->
  <path d="M653 934 L688 955" stroke="#0d0d0d" stroke-width="2.5"/>
  <path d="M578 947 L690 957" stroke="#2b2e30" stroke-width="3.2"/>
  <path d="M579 946.5 L688 955.5" stroke="#6b7070" stroke-width="1"/>
  <rect x="566" y="937" width="14" height="16" fill="#c2c6c2" stroke="#0d0d0d" stroke-width="1.8"/>
  <rect x="570.5" y="939" width="4" height="12" fill="#0d0d0d"/>
  <path d="M671 973 L683 960 Q688 954 692 957 Q693 961 689 962" fill="none" stroke="#0d0d0d" stroke-width="3.4"/>
  <path d="M672.5 971 L683 960" fill="none" stroke="#c8c8c8" stroke-width="1.2"/>
  <!-- base strip -->
  <rect x="361" y="974" width="336" height="14" fill="#5b606b" stroke="#0d0d0d" stroke-width="2.4"/>
  <!-- tap 10 -->
  <rect x="360" y="957.8" width="17" height="6.6" fill="#5a6a88" stroke="#0d0d0d" stroke-width="1.6"/>
  <path d="M336 950 q0 -4.5 4 -4.5 q4 0 4 4.5 v3 h3 v-2 q1 -4 4 -4 q4 0 4 4 v6 h4 v6 h-4 v3 h-19 z" fill="#111" stroke="#0d0d0d" stroke-width="1.6"/>
  <path d="M347 954 l2 -3 l2 3 v8 h-4z" fill="#d8a838" stroke="#d8a838" stroke-width="1.2"/>
  <path d="M339 956 h2 v6 h-2z M355 959 h3 v3 h-3z" fill="#b88a28"/>
  <path d="M376 989 h14 v4 h3 q1 4 -10 5 q-11 -1 -10 -5 h3z" fill="#9a9aa0" stroke="#0d0d0d" stroke-width="1.8"/>
  <path d="M670 989 h12 v4 h3 q1 4 -9 5 q-10 -1 -9 -5 h3z" fill="#9a9aa0" stroke="#0d0d0d" stroke-width="1.8"/>
  <!-- pipe 9 -->
  <rect x="337" y="810.6" width="40" height="20" fill="#1a1b1f" stroke="#0d0d0d" stroke-width="2.4"/>
  <path d="M340 816 H374" stroke="#3a3c42" stroke-width="2"/>
</g>
<!--/s2-->
<text x="222" y="47.5" font-size="19.5" textLength="102" lengthAdjust="spacingAndGlyphs" stroke="#161616" stroke-width="0.15">K-WRM 18</text>
<text x="336" y="47.5" font-size="19.5" font-weight="bold" stroke="#161616" stroke-width="0.3">R</text>
<text x="240.5" y="544.5" font-size="19.5" textLength="92.5" lengthAdjust="spacingAndGlyphs" stroke="#161616" stroke-width="0.45">K-WRM 25</text>
<text x="342" y="544.5" font-size="19.5" font-weight="bold" stroke="#161616" stroke-width="0.6">R</text>
<g id="labels">
<g stroke="#262626" stroke-width="1.3" fill="none">
<path d="M70 71 L81 95"/>
<path d="M162 70 L142 109"/>
<path d="M196 70 L172.5 108.7"/>
<path d="M69.2 580.5 L83 610"/>
<path d="M156.6 581 L145.7 614"/>
<path d="M179.5 581 L169.4 614"/>
<path d="M309 72 L326.2 101.2"/>
<path d="M326.2 101.2 L429.5 143.5"/>
<path d="M326.2 101.2 L340 113.7"/>
<path d="M370 146 L383.7 157.5"/>
<path d="M371.2 76 L383 103"/>
<path d="M411.2 76 L418.7 95"/>
<path d="M483.7 77.5 L475 88"/>
<path d="M277 182 L304 170"/>
<path d="M274 217 L320 199"/>
<path d="M277.5 256 L377.5 238.7"/>
<path d="M293.7 335 L317.3 325.8"/>
<path d="M298 461 L315 455"/>
<path d="M670.8 162.4 L633.2 152.5"/>
<path d="M670.6 213.6 L641.8 205.3"/>
<path d="M671.5 244.5 L637.8 225"/>
<path d="M673.3 332.8 L434 375"/>
<path d="M673 371.4 L633.7 377.3"/>
<path d="M673 419 L653.5 424.9"/>
<path d="M673 456.5 L637.6 444.7"/>
<path d="M428 498 L402 425"/>
<path d="M477.5 499 L486 450"/>
<path d="M527.5 499 L552.5 426"/>
<path d="M558 499 L591 419"/>
<path d="M602 499 L596 488"/>
<path d="M301 579 L314 588"/>
<path d="M314 588 L512.5 641"/>
<path d="M314 588 L676 775"/>
<path d="M314 588 L458 683"/>
<path d="M314 588 L420 690"/>
<path d="M301.2 606.7 L347 633"/>
<path d="M301.2 627 L326 639.7"/>
<path d="M326 639.7 L356 654.7"/>
<path d="M326 639.7 L348.5 666"/>
<path d="M301 674.5 L325.6 688"/>
<path d="M301 738 L311 733"/>
<path d="M447 581.5 L456 605"/>
<path d="M469 581 L473 600"/>
<path d="M508.6 578.6 L522 590"/>
<path d="M749.2 634 L717.7 650.2"/>
<path d="M749 685.6 L725.5 692.6"/>
<path d="M749 728.7 L721 723"/>
<path d="M748.4 839.2 L512 880"/>
<path d="M748.4 875 L712.6 880.7"/>
<path d="M748.4 922 L737 927.7"/>
<path d="M748.4 959.8 L722 948.5"/>
<path d="M302.6 798.7 L337.2 811.6"/>
<path d="M307.5 947.2 L336.2 962"/>
<path d="M389 1005 L378 993"/>
<path d="M421.6 1003.4 L427 960"/>
<path d="M478 1003 L487 930"/>
<path d="M558 1005 L575 955"/>
<path d="M601 1005 L618.6 936"/>
<path d="M640 1005 L676 915"/>
<path d="M668 1005 L674 995"/>
</g>
<text x="57.9" y="66.7" font-size="18" stroke="#161616" stroke-width="0.35">23</text>
<text x="155.4" y="66.7" font-size="18" stroke="#161616" stroke-width="0.35">24</text>
<text x="191.4" y="66.7" font-size="18" stroke="#161616" stroke-width="0.35">25</text>
<text x="50.5" y="571.8" font-size="18" stroke="#161616" stroke-width="0.35">23</text>
<text x="150.2" y="571.8" font-size="18" stroke="#161616" stroke-width="0.35">24</text>
<text x="174.8" y="571.8" font-size="18" stroke="#161616" stroke-width="0.35">25</text>
<text x="301.2" y="67.8" font-size="18" stroke="#161616" stroke-width="0.35">4</text>
<text x="359.8" y="67.8" font-size="18" stroke="#161616" stroke-width="0.35">3</text>
<text x="393.8" y="67.8" font-size="18" stroke="#161616" stroke-width="0.35">21</text>
<text x="488.8" y="67.8" font-size="18" stroke="#161616" stroke-width="0.35">1</text>
<text x="256.3" y="196.4" font-size="18" stroke="#161616" stroke-width="0.35">7</text>
<text x="253.6" y="230.2" font-size="18" stroke="#161616" stroke-width="0.35">8</text>
<text x="248.6" y="263.8" font-size="18" stroke="#161616" stroke-width="0.35">26</text>
<text x="272.3" y="347.3" font-size="18" stroke="#161616" stroke-width="0.35">9</text>
<text x="267.8" y="476.5" font-size="18" stroke="#161616" stroke-width="0.35">10</text>
<text x="680.1" y="175.4" font-size="18" stroke="#161616" stroke-width="0.35">22</text>
<text x="680.1" y="226.3" font-size="18" stroke="#161616" stroke-width="0.35">21</text>
<text x="680.8" y="262.8" font-size="18" stroke="#161616" stroke-width="0.35">17</text>
<text x="681.8" y="337.5" font-size="18" stroke="#161616" stroke-width="0.35">20</text>
<text x="681.8" y="375.8" font-size="18" stroke="#161616" stroke-width="0.35">19</text>
<text x="681.8" y="420.8" font-size="18" stroke="#161616" stroke-width="0.35">18</text>
<text x="681.8" y="470.2" font-size="18" stroke="#161616" stroke-width="0.35">17</text>
<text x="429.5" y="524.6" font-size="18" stroke="#161616" stroke-width="0.35">2</text>
<text x="464.8" y="524.6" font-size="18" stroke="#161616" stroke-width="0.35">14</text>
<text x="512.3" y="524.6" font-size="18" stroke="#161616" stroke-width="0.35">15</text>
<text x="541.6" y="524.6" font-size="18" stroke="#161616" stroke-width="0.35">16</text>
<text x="602.0" y="524.6" font-size="18" stroke="#161616" stroke-width="0.35">11</text>
<text x="280.3" y="573.5" font-size="18" stroke="#161616" stroke-width="0.35">4</text>
<text x="280.3" y="605.4" font-size="18" stroke="#161616" stroke-width="0.35">5</text>
<text x="280.3" y="627.4" font-size="18" stroke="#161616" stroke-width="0.35">6</text>
<text x="281.5" y="673.8" font-size="18" stroke="#161616" stroke-width="0.35">7</text>
<text x="281.5" y="754.8" font-size="18" stroke="#161616" stroke-width="0.35">8</text>
<text x="434.8" y="572.2" font-size="18" stroke="#161616" stroke-width="0.35">3</text>
<text x="460.5" y="572.2" font-size="18" stroke="#161616" stroke-width="0.35">2</text>
<text x="487.8" y="572.2" font-size="18" stroke="#161616" stroke-width="0.35">1</text>
<text x="281.6" y="800.5" font-size="18" stroke="#161616" stroke-width="0.35">9</text>
<text x="278.6" y="943.1" font-size="18" stroke="#161616" stroke-width="0.35">10</text>
<text x="758.2" y="631.6" font-size="18" stroke="#161616" stroke-width="0.35">22</text>
<text x="758.2" y="687.1" font-size="18" stroke="#161616" stroke-width="0.35">21</text>
<text x="758.2" y="740.8" font-size="18" stroke="#161616" stroke-width="0.35">17</text>
<text x="758.5" y="843.8" font-size="18" stroke="#161616" stroke-width="0.35">20</text>
<text x="758.5" y="879.6" font-size="18" stroke="#161616" stroke-width="0.35">19</text>
<text x="758.5" y="926.7" font-size="18" stroke="#161616" stroke-width="0.35">18</text>
<text x="758.5" y="975.6" font-size="18" stroke="#161616" stroke-width="0.35">17</text>
<text x="385.8" y="1029.8" font-size="18" stroke="#161616" stroke-width="0.35">11</text>
<text x="408.8" y="1029.8" font-size="18" stroke="#161616" stroke-width="0.35">12</text>
<text x="465.8" y="1029.8" font-size="18" stroke="#161616" stroke-width="0.35">13</text>
<text x="544.4" y="1029.8" font-size="18" stroke="#161616" stroke-width="0.35">14</text>
<text x="586.8" y="1029.8" font-size="18" stroke="#161616" stroke-width="0.35">15</text>
<text x="622.8" y="1029.8" font-size="18" stroke="#161616" stroke-width="0.35">16</text>
<text x="653.8" y="1029.8" font-size="18" stroke="#161616" stroke-width="0.35">11</text>
</g><!--/labels-->
</svg>
</body></html>
